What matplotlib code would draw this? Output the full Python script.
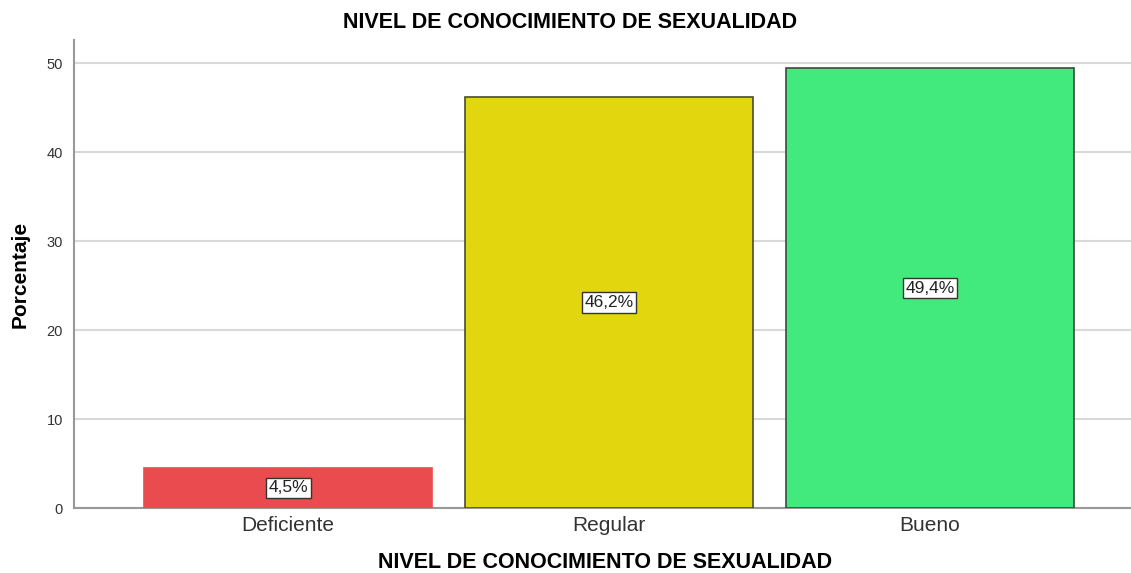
import matplotlib
matplotlib.use("Agg")
import matplotlib.pyplot as plt

categories = ["Deficiente", "Regular", "Bueno"]
values = [4.5, 46.2, 49.4]
labels = ["4,5%", "46,2%", "49,4%"]
colors = ["#EA4B4E", "#E2D70F", "#42EA7E"]
edges = ["#EA4B4E", "#4a4a3a", "#3a4a3f"]
yticks = [0, 10, 20, 30, 40, 50]

plt.rcParams['font.family'] = ['Liberation Sans', 'DejaVu Sans']

fig = plt.figure(figsize=(11.31, 5.73), dpi=100)
ax = fig.add_axes([74/1131, 1-508/573, 1-74/1131, (508-40)/573])

x = list(range(len(categories)))
ax.bar(x, values, width=0.897, color=colors, edgecolor=edges, linewidth=1.2, zorder=3)
for xi, v, lab in zip(x, values, labels):
    ax.text(xi, v/2, lab, ha='center', va='center', fontsize=12.5, color='#222222', zorder=4,
            bbox=dict(boxstyle='square,pad=0.15', facecolor='white', edgecolor='#333333', linewidth=1))

ax.set_xlim(-0.667, 2.626)
ax.set_ylim(0, 52.6)
ax.set_yticks(yticks)
ax.set_xticks(x)
ax.set_xticklabels(categories, fontsize=15, color='#333333')
ax.tick_params(axis='y', labelsize=10.5, length=0, pad=8, colors='#333333')
ax.tick_params(axis='x', length=0, pad=6)
ax.yaxis.grid(True, color='#d9d9d9', linewidth=1.5, zorder=0)
ax.set_axisbelow(True)
for s in ['top', 'right']:
    ax.spines[s].set_visible(False)
for s in ['left', 'bottom']:
    ax.spines[s].set_color('#999999')
    ax.spines[s].set_linewidth(1.5)

ax.set_ylabel('Porcentaje', fontsize=15, fontweight='bold', labelpad=12)
fig.text(605/1131, 1-563/573, 'NIVEL DE CONOCIMIENTO DE SEXUALIDAD', ha='center', va='center',
         fontsize=15.5, fontweight='bold')
fig.text(570/1131, 1-22/573, 'NIVEL DE CONOCIMIENTO DE SEXUALIDAD', ha='center', va='center',
         fontsize=15.5, fontweight='bold')

fig.savefig('out.png', dpi=100)
